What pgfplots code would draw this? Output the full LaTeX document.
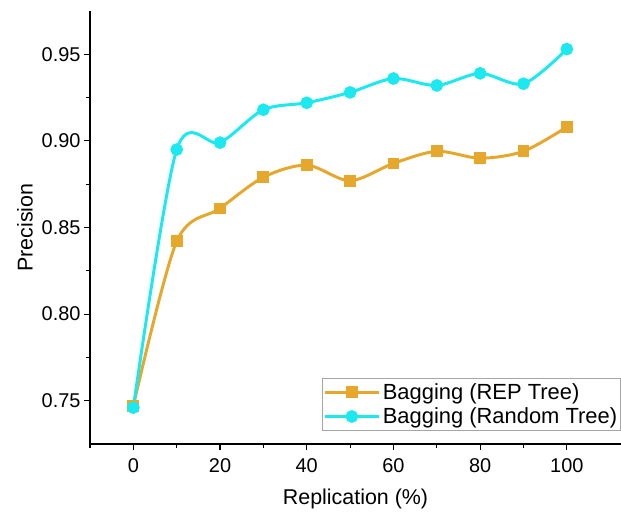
\documentclass[border=0pt]{standalone}
\usepackage{pgfplots}
\pgfplotsset{compat=1.18}
\usepackage{fontspec}
\setmainfont{Liberation Sans}
\definecolor{cRep}{HTML}{E6A82C}
\definecolor{cRand}{HTML}{1CE8F0}

\begin{document}
\begin{tikzpicture}[x=1bp,y=1bp]
\useasboundingbox (-90,-70) rectangle (531,444);
\begin{axis}[
  at={(0,0)}, anchor=south west,
  scale only axis,
  width=531bp, height=433bp,
  xmin=-10, xmax=112.5,
  ymin=0.725, ymax=0.975,
  axis x line=bottom, axis y line=left,
  axis line style={-, line width=1.2pt, black},
  xtick={0,20,40,60,80,100},
  minor xtick={-10,10,30,50,70,90},
  ytick={0.75,0.80,0.85,0.90,0.95},
  minor ytick={0.775,0.825,0.875,0.925},
  yticklabel style={/pgf/number format/.cd, fixed, fixed zerofill, precision=2},
  /pgf/number format/assume math mode=true,
  tick align=outside,
  major tick length=6pt, minor tick length=4pt,
  tick style={line width=1.1pt, black},
  tick label style={font=\fontsize{20}{22}\selectfont},
  xticklabel style={yshift=-5pt},
  xlabel={Replication (\%)}, ylabel={Precision},
  label style={font=\fontsize{21.5}{24}\selectfont},
  xlabel style={yshift=-10pt},
  ylabel style={yshift=2pt},
  legend style={
    at={(rel axis cs:1,0.03)}, anchor=south east,
    draw=gray!70, line width=0.7pt,
    font=\fontsize{22}{24}\selectfont,
    inner xsep=1pt, inner ysep=3pt, row sep=2pt,
    nodes={inner sep=2.5pt},
  },
  legend cell align=left,
  legend image code/.code={
    \draw[#1, line width=3pt] (0bp,0bp) -- (54bp,0bp);
    \draw[#1, only marks] plot coordinates {(27bp,0bp)};
  },
  clip=false,
]
\addplot[cRep, line width=3pt, smooth, tension=0.5,
  mark=square*, mark size=4.4bp, mark options={solid}]
coordinates {
  (0,0.747)(10,0.842)(20,0.861)(30,0.879)(40,0.886)(50,0.877)
  (60,0.887)(70,0.894)(80,0.890)(90,0.894)(100,0.908)
};
\addlegendentry{Bagging (REP Tree)}
\addplot[cRand, line width=3pt, smooth, tension=0.5,
  mark=*, mark size=4.8bp, mark options={solid}]
coordinates {
  (0,0.746)(10,0.895)(20,0.899)(30,0.918)(40,0.922)(50,0.928)
  (60,0.936)(70,0.932)(80,0.939)(90,0.933)(100,0.953)
};
\addlegendentry{Bagging (Random Tree)}
\end{axis}
\end{tikzpicture}
\end{document}
